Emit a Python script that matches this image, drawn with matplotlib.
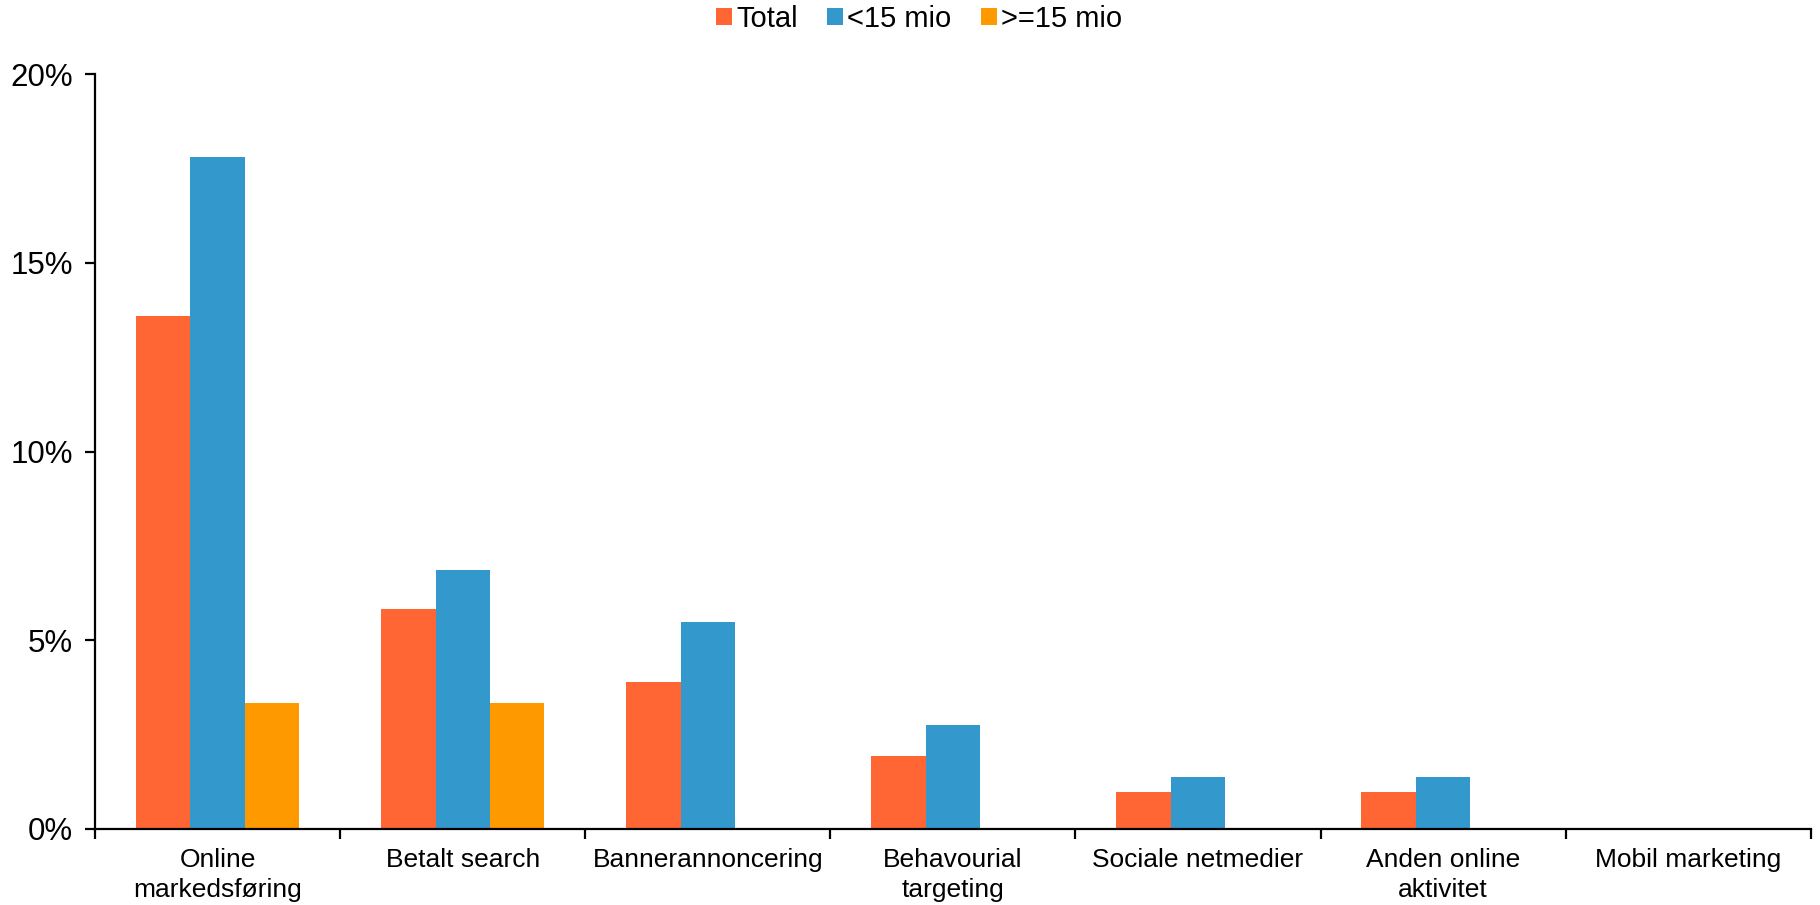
import numpy as np
import matplotlib
matplotlib.use('Agg')
import matplotlib.pyplot as plt
from matplotlib.ticker import FuncFormatter, MultipleLocator

plt.rcParams['font.family'] = ['Liberation Sans', 'DejaVu Sans']

categories = ['Online\nmarkedsføring', 'Betalt search', 'Bannerannoncering',
              'Behavourial\ntargeting', 'Sociale netmedier', 'Anden online\naktivitet',
              'Mobil marketing']
total = [13.6, 5.83, 3.88, 1.94, 0.97, 0.97, 0.0]
under_15 = [17.8, 6.85, 5.48, 2.74, 1.37, 1.37, 0.0]
over_15 = [3.33, 3.33, 0.0, 0.0, 0.0, 0.0, 0.0]
series_names = ['Total', '<15 mio', '>=15 mio']

color_total = '#FF6633'
color_small = '#3399CC'
color_big = '#FF9900'

fig = plt.figure(figsize=(18.2, 9.05), dpi=100)
ax = fig.add_axes([0.0523, 0.0843, 0.9426, 0.8336])

x = np.arange(len(categories))
w = 1 / 4.5
ax.bar(x - w, total, w, color=color_total, label=series_names[0], linewidth=0)
ax.bar(x, under_15, w, color=color_small, label=series_names[1], linewidth=0)
ax.bar(x + w, over_15, w, color=color_big, label=series_names[2], linewidth=0)

ax.set_xlim(-0.5, len(categories) - 0.5)
ax.set_ylim(0, 20)
ax.yaxis.set_major_locator(MultipleLocator(5))
ax.yaxis.set_major_formatter(FuncFormatter(lambda v, p: f'{v:.0f}%'))

ax.set_xticks(x)
ax.set_xticklabels(categories, fontsize=19, linespacing=1.3)
ax.set_xticks(np.arange(-0.5, len(categories)), minor=True)
ax.tick_params(axis='x', which='major', length=0, pad=14)
ax.tick_params(axis='x', which='minor', length=7, width=1.6, direction='out')
ax.tick_params(axis='y', labelsize=22.5, length=7, width=1.6, direction='out', pad=9)

for side in ['top', 'right']:
    ax.spines[side].set_visible(False)
for side in ['left', 'bottom']:
    ax.spines[side].set_linewidth(1.6)

fig.legend(loc='center', bbox_to_anchor=(0.505, 0.979), ncol=3, frameon=False,
           fontsize=21, handlelength=0.55, handleheight=0.55, handletextpad=0.15,
           columnspacing=1.0)

fig.savefig('out.png', dpi=100)
